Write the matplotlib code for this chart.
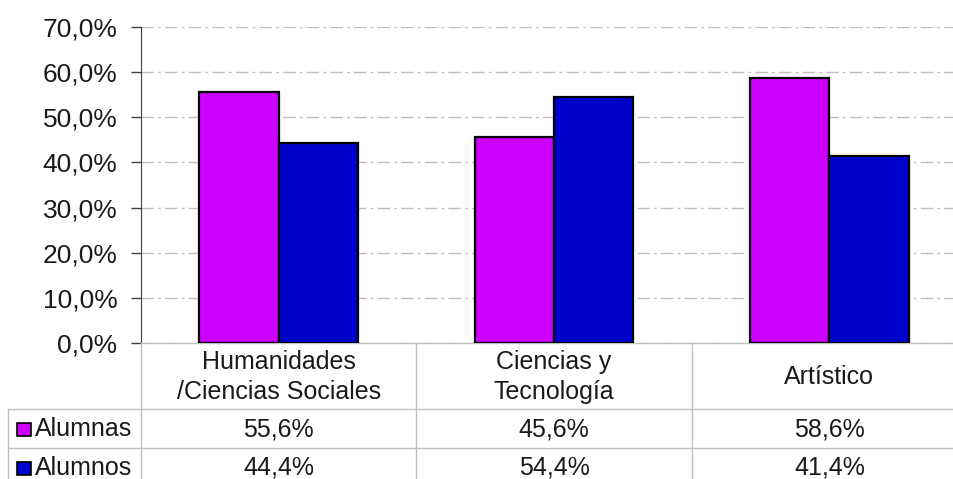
import numpy as np
import matplotlib
matplotlib.use("Agg")
import matplotlib.pyplot as plt
from matplotlib.transforms import blended_transform_factory
from matplotlib.patches import Rectangle

categories = ["Humanidades\n/Ciencias Sociales", "Ciencias y\nTecnología", "Artístico"]
series_names = ["Alumnas", "Alumnos"]
alumnas = [55.6, 45.6, 58.6]
alumnos = [44.4, 54.4, 41.4]
yticks = [0, 10, 20, 30, 40, 50, 60, 70]

colors = ["#CC00FF", "#0000CC"]
grid_col = "#BFBFBF"

plt.rcParams["font.family"] = ["Liberation Sans", "DejaVu Sans"]

W, H = 954, 479
fig = plt.figure(figsize=(W / 100, H / 100), dpi=100)

def fy(py):
    return (H - py) / H

ax = fig.add_axes([141 / W, fy(343), (967 - 141) / W, (343 - 27) / H])

x = np.arange(len(categories))
bw = 0.288
ax.bar(x - bw / 2, alumnas, bw, color=colors[0], edgecolor="black", linewidth=1.6, zorder=3)
ax.bar(x + bw / 2, alumnos, bw, color=colors[1], edgecolor="black", linewidth=1.6, zorder=3)

ax.set_xlim(-0.5, len(categories) - 0.5)
ax.set_ylim(0, 70)
ax.set_yticks(yticks)
ax.set_yticklabels([f"{v:.1f}%".replace(".", ",") for v in yticks], fontsize=19, color="#1a1a1a")
ax.tick_params(axis="y", length=7, width=1, color="#404040", pad=10)
ax.set_xticks([])
ax.yaxis.grid(True, color=grid_col, linewidth=1, linestyle=(0, (9, 3, 2, 3)), zorder=0)
for s in ["top", "right"]:
    ax.spines[s].set_visible(False)
ax.spines["left"].set_color("#404040")
ax.spines["bottom"].set_color(grid_col)
ax.spines["bottom"].set_linewidth(1)

# data table below the axes
tr = blended_transform_factory(ax.transData, fig.transFigure)
lc = dict(color=grid_col, linewidth=1, clip_on=False)
y_head_top, y_r1, y_r2, y_end = fy(343), fy(409), fy(448), fy(490)
x0_fig = 8 / W
for b in np.arange(-0.5, len(categories) + 0.5, 1.0):
    fig.add_artist(plt.Line2D([b, b], [y_head_top, y_end], transform=tr, **lc))
fig.add_artist(plt.Line2D([x0_fig, x0_fig], [y_r1, y_end], transform=fig.transFigure, **lc))
for yy in [y_r1, y_r2]:
    fig.add_artist(plt.Line2D([x0_fig, 1.0], [yy, yy], transform=fig.transFigure, **lc))

for i, c in enumerate(categories):
    fig.text(x[i], fy(377), c, transform=tr, ha="center", va="center",
             fontsize=18, linespacing=1.3, color="#1a1a1a")

rows = [alumnas, alumnos]
row_y = [fy(429), fy(468)]
for r, (name, vals) in enumerate(zip(series_names, rows)):
    fig.add_artist(Rectangle((17 / W, row_y[r] - 6.5 / H), 14 / W, 13 / H,
                             transform=fig.transFigure, facecolor=colors[r],
                             edgecolor="black", linewidth=1.2))
    fig.text(35 / W, row_y[r], name, ha="left", va="center", fontsize=18, color="#1a1a1a")
    for i, v in enumerate(vals):
        fig.text(x[i], row_y[r], f"{v:.1f}%".replace(".", ","), transform=tr,
                 ha="center", va="center", fontsize=18, color="#1a1a1a")

fig.savefig("out.png", dpi=100)
plt.close(fig)
